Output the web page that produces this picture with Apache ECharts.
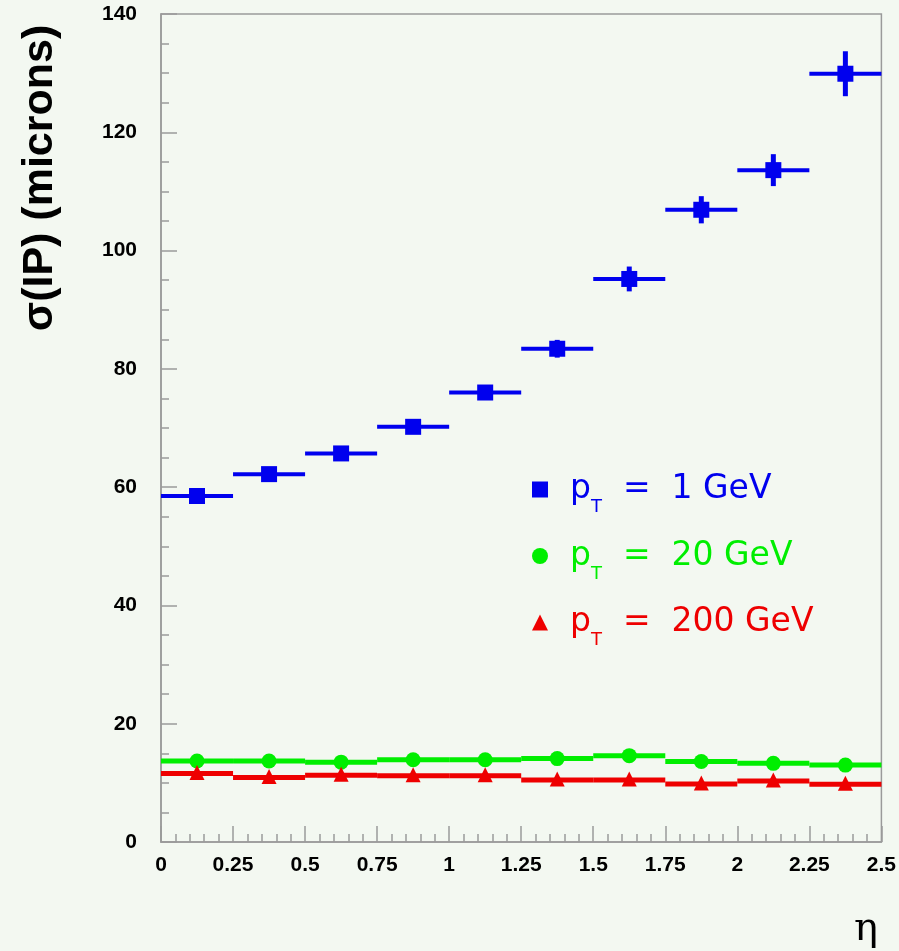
<!DOCTYPE html>
<html>
<head>
<meta charset="utf-8">
<script src="https://cdn.jsdelivr.net/npm/echarts@6/dist/echarts.min.js"></script>
<style>
html, body { margin: 0; padding: 0; background: #f3f8f1; }
#chart { width: 899px; height: 951px; }
</style>
</head>
<body>
<div id="chart"></div>
<script>
// bin centres in eta (bin width 0.25)
var etaCenters = [0.125, 0.375, 0.625, 0.875, 1.125, 1.375, 1.625, 1.875, 2.125, 2.375];
var binHalf = 0.125;
// sigma(IP) in microns
var pt1 = [58.5, 62.2, 65.7, 70.2, 76.0, 83.4, 95.2, 106.9, 113.6, 129.9];
var pt1Err = [0.8, 0.8, 0.9, 0.9, 1.1, 1.5, 2.1, 2.3, 2.7, 3.8];
var pt20 = [13.7, 13.7, 13.5, 13.9, 13.9, 14.1, 14.6, 13.6, 13.3, 13.0];
var pt20Err = [0.2, 0.2, 0.2, 0.2, 0.2, 0.2, 0.2, 0.2, 0.2, 0.2];
var pt200 = [11.6, 10.9, 11.3, 11.2, 11.2, 10.5, 10.5, 9.8, 10.3, 9.75];
var pt200Err = [0.2, 0.2, 0.2, 0.2, 0.2, 0.2, 0.2, 0.2, 0.2, 0.2];
var seriesNames = ['pT = 1 GeV', 'pT = 20 GeV', 'pT = 200 GeV'];
var xTicks = { min: 0, max: 2.5, step: 0.25 };
var yTicks = { min: 0, max: 140, step: 20 };

var myChart = echarts.init(document.getElementById('chart'));

function makeData(vals, errs) {
    var out = [];
    for (var i = 0; i < vals.length; i++) {
        out.push([etaCenters[i], vals[i], errs[i]]);
    }
    return out;
}

// histogram-like point: horizontal bin bar, vertical error bar, marker
function makeRender(color, marker, size, barW) {
    return function (params, api) {
        var x = api.value(0), y = api.value(1), e = api.value(2);
        var c = api.coord([x, y]);
        var l = api.coord([x - binHalf, y]);
        var r = api.coord([x + binHalf, y]);
        var top = api.coord([x, y + e]);
        var bot = api.coord([x, y - e]);
        var kids = [
            { type: 'line', shape: { x1: l[0], y1: c[1], x2: r[0], y2: c[1] }, style: { stroke: color, lineWidth: barW } },
            { type: 'line', shape: { x1: c[0], y1: top[1], x2: c[0], y2: bot[1] }, style: { stroke: color, lineWidth: 5 } }
        ];
        var h = size / 2;
        if (marker === 'rect') {
            kids.push({ type: 'rect', shape: { x: c[0] - h, y: c[1] - h, width: size, height: size }, style: { fill: color } });
        } else if (marker === 'circle') {
            kids.push({ type: 'circle', shape: { cx: c[0], cy: c[1], r: h }, style: { fill: color } });
        } else {
            kids.push({ type: 'polygon', shape: { points: [[c[0], c[1] - h - 1], [c[0] - h, c[1] + h - 1], [c[0] + h, c[1] + h - 1]] }, style: { fill: color } });
        }
        return { type: 'group', children: kids };
    };
}

var styleKeys = { 'pT = 1 GeV': 'b', 'pT = 20 GeV': 'g', 'pT = 200 GeV': 'r' };
var legendFont = 'DejaVu Sans';

function richSet(color) {
    return [
        { color: color, fontSize: 33, fontFamily: legendFont, lineHeight: 38, padding: [0, 0, 0, 17] },
        { color: color, fontSize: 18, fontFamily: legendFont, verticalAlign: 'bottom', padding: [0, 0, -8, 0] },
        { color: color, fontSize: 33, fontFamily: legendFont, lineHeight: 38 }
    ];
}
var bRich = richSet('#0000ee'), gRich = richSet('#00ee00'), rRich = richSet('#ee0000');

var option = {
    backgroundColor: '#f3f8f1',
    animation: false,
    grid: {
        left: 161, right: 17, top: 14, bottom: 109,
        show: true, borderColor: '#9a9a9a', borderWidth: 1.5, backgroundColor: 'transparent'
    },
    legend: {
        orient: 'vertical',
        left: 527, top: 468,
        itemWidth: 16, itemHeight: 16,
        itemGap: 23,
        data: [
            { name: seriesNames[0], icon: 'rect' },
            { name: seriesNames[1], icon: 'circle' },
            { name: seriesNames[2], icon: 'triangle' }
        ],
        formatter: function (name) {
            var k = styleKeys[name];
            return '{' + k + 'p|p}{' + k + 's|T}{' + k + '|  =  ' + name.substring(5) + '}';
        },
        textStyle: {
            rich: {
                bp: bRich[0], bs: bRich[1], b: bRich[2],
                gp: gRich[0], gs: gRich[1], g: gRich[2],
                rp: rRich[0], rs: rRich[1], r: rRich[2]
            }
        }
    },
    xAxis: {
        type: 'value',
        min: xTicks.min, max: xTicks.max, interval: xTicks.step,
        axisLine: { onZero: false, lineStyle: { color: '#9a9a9a', width: 1.5 } },
        axisTick: { inside: true, length: 16, lineStyle: { color: '#9a9a9a', width: 1.5 } },
        minorTick: { show: true, splitNumber: 5, length: 8, lineStyle: { color: '#9a9a9a', width: 1.5 } },
        splitLine: { show: false },
        axisLabel: { margin: 13, color: '#000', fontSize: 21, fontWeight: 'bold', fontFamily: 'Liberation Sans' }
    },
    yAxis: {
        type: 'value',
        min: yTicks.min, max: yTicks.max, interval: yTicks.step,
        axisLine: { show: true, lineStyle: { color: '#9a9a9a', width: 1.5 } },
        axisTick: { show: true, inside: true, length: 16, lineStyle: { color: '#9a9a9a', width: 1.5 } },
        minorTick: { show: true, splitNumber: 4, length: 8, lineStyle: { color: '#9a9a9a', width: 1.5 } },
        splitLine: { show: false },
        axisLabel: { margin: 24, color: '#000', fontSize: 21, fontWeight: 'bold', fontFamily: 'Liberation Sans' }
    },
    graphic: [
        {
            type: 'text', x: 40, y: 178, rotation: Math.PI / 2,
            style: {
                text: 'σ(IP) (microns)', fill: '#000', fontSize: 43, fontWeight: 'bold',
                fontFamily: 'Liberation Sans', align: 'center', verticalAlign: 'middle'
            }
        },
        {
            type: 'text', x: 866, y: 930,
            style: {
                text: 'η', fill: '#000', fontSize: 40, fontFamily: 'DejaVu Serif',
                align: 'center', verticalAlign: 'middle'
            }
        }
    ],
    series: [
        {
            name: seriesNames[0], type: 'custom', itemStyle: { color: '#0000ee' },
            renderItem: makeRender('#0000ee', 'rect', 16, 4),
            encode: { x: 0, y: 1 },
            data: makeData(pt1, pt1Err)
        },
        {
            name: seriesNames[1], type: 'custom', itemStyle: { color: '#00ee00' },
            renderItem: makeRender('#00ee00', 'circle', 15, 5),
            encode: { x: 0, y: 1 },
            data: makeData(pt20, pt20Err)
        },
        {
            name: seriesNames[2], type: 'custom', itemStyle: { color: '#ee0000' },
            renderItem: makeRender('#ee0000', 'triangle', 15, 5),
            encode: { x: 0, y: 1 },
            data: makeData(pt200, pt200Err)
        }
    ]
};

myChart.setOption(option);
</script>
</body>
</html>
